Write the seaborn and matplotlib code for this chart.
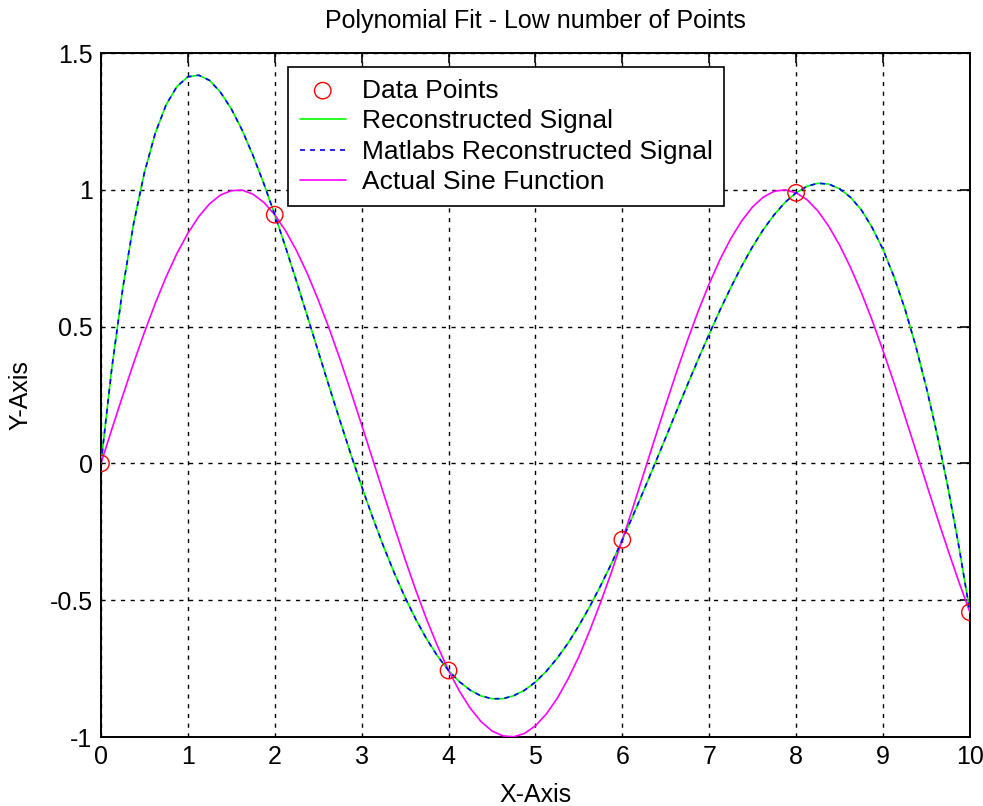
import matplotlib
matplotlib.use('Agg')
import matplotlib.pyplot as plt
import seaborn as sns
import pandas as pd

# sample points (x = 0..10 step 2)
pts_x = [0, 2, 4, 6, 8, 10]
pts_y = [0.0, 0.909, -0.757, -0.279, 0.989, -0.544]

# curves at x step 0.125
curve_x = [0.0, 0.125, 0.25, 0.375, 0.5, 0.625, 0.75, 0.875,
           1.0, 1.125, 1.25, 1.375, 1.5, 1.625, 1.75, 1.875,
           2.0, 2.125, 2.25, 2.375, 2.5, 2.625, 2.75, 2.875,
           3.0, 3.125, 3.25, 3.375, 3.5, 3.625, 3.75, 3.875,
           4.0, 4.125, 4.25, 4.375, 4.5, 4.625, 4.75, 4.875,
           5.0, 5.125, 5.25, 5.375, 5.5, 5.625, 5.75, 5.875,
           6.0, 6.125, 6.25, 6.375, 6.5, 6.625, 6.75, 6.875,
           7.0, 7.125, 7.25, 7.375, 7.5, 7.625, 7.75, 7.875,
           8.0, 8.125, 8.25, 8.375, 8.5, 8.625, 8.75, 8.875,
           9.0, 9.125, 9.25, 9.375, 9.5, 9.625, 9.75, 9.875,
           10.0]
recon_y = [0.0, 0.348, 0.638, 0.875, 1.063, 1.207, 1.311, 1.378,
           1.413, 1.419, 1.400, 1.357, 1.296, 1.218, 1.125, 1.022,
           0.909, 0.790, 0.666, 0.538, 0.410, 0.282, 0.157, 0.034,
           -0.084, -0.196, -0.302, -0.400, -0.490, -0.571, -0.643, -0.705,
           -0.757, -0.798, -0.829, -0.850, -0.860, -0.860, -0.849, -0.829,
           -0.799, -0.760, -0.712, -0.657, -0.593, -0.523, -0.447, -0.366,
           -0.279, -0.189, -0.096, -0.001, 0.095, 0.192, 0.288, 0.382,
           0.473, 0.561, 0.644, 0.722, 0.793, 0.856, 0.910, 0.955,
           0.989, 1.013, 1.024, 1.021, 1.004, 0.973, 0.927, 0.862,
           0.782, 0.683, 0.567, 0.431, 0.276, 0.102, -0.092, -0.307,
           -0.544]
sine_y = [0.0, 0.125, 0.247, 0.366, 0.479, 0.585, 0.682, 0.768,
          0.841, 0.902, 0.949, 0.981, 0.997, 0.999, 0.984, 0.954,
          0.909, 0.850, 0.778, 0.694, 0.598, 0.494, 0.382, 0.263,
          0.141, 0.017, -0.108, -0.231, -0.351, -0.465, -0.572, -0.669,
          -0.757, -0.832, -0.895, -0.944, -0.978, -0.996, -0.999, -0.987,
          -0.959, -0.916, -0.859, -0.788, -0.706, -0.611, -0.508, -0.397,
          -0.279, -0.158, -0.033, 0.092, 0.215, 0.335, 0.450, 0.558,
          0.657, 0.746, 0.823, 0.887, 0.938, 0.974, 0.995, 1.000,
          0.989, 0.964, 0.923, 0.867, 0.798, 0.717, 0.625, 0.523,
          0.412, 0.296, 0.174, 0.050, -0.075, -0.199, -0.319, -0.435,
          -0.544]

x_ticks = [0, 1, 2, 3, 4, 5, 6, 7, 8, 9, 10]
y_ticks = [-1, -0.5, 0, 0.5, 1, 1.5]
y_tick_labels = ['-1', '-0.5', '0', '0.5', '1', '1.5']

pts = pd.DataFrame({'x': pts_x, 'y': pts_y})
curves = pd.DataFrame({'x': curve_x, 'recon': recon_y, 'sine': sine_y})

sns.set_style('white')
plt.rcParams['font.family'] = ['Liberation Sans', 'DejaVu Sans']
plt.rcParams['font.size'] = 18
plt.rcParams['text.color'] = 'black'
plt.rcParams['axes.labelcolor'] = 'black'

fig = plt.figure(figsize=(9.83, 8.06), dpi=100)
ax = fig.add_axes([0.1027, 0.0856, 0.8840, 0.8486])

sns.scatterplot(data=pts, x='x', y='y', ax=ax, marker='o', s=140,
                facecolor='none', edgecolor='#ff0000', linewidth=1.0,
                label='Data Points', zorder=5)
sns.lineplot(data=curves, x='x', y='recon', ax=ax, color='#00ff00', lw=1.2,
             label='Reconstructed Signal', zorder=3)
sns.lineplot(data=curves, x='x', y='recon', ax=ax, color='#0000ff', lw=1.2,
             linestyle=(0, (3, 3)), label='Matlabs Reconstructed Signal', zorder=4)
sns.lineplot(data=curves, x='x', y='sine', ax=ax, color='#ff00ff', lw=1.2,
             label='Actual Sine Function', zorder=3)

ax.set_xlim(0, 10)
ax.set_ylim(-1, 1.5)
ax.set_xticks(x_ticks)
ax.set_yticks(y_ticks)
ax.set_yticklabels(y_tick_labels)
ax.grid(True, color='black', linestyle=(0, (3, 4)), linewidth=1.0)
ax.set_axisbelow(True)
ax.tick_params(direction='in', length=7, width=1.2, top=True, right=True,
               labelsize=18, pad=6, colors='black')
for sp in ax.spines.values():
    sp.set_color('black')
    sp.set_linewidth(1.4)

ax.set_title('Polynomial Fit - Low number of Points', fontsize=18, pad=18)
ax.set_xlabel('X-Axis', fontsize=18, labelpad=10)
ax.set_ylabel('Y-Axis', fontsize=18, labelpad=12)

leg = ax.legend(loc='upper left', bbox_to_anchor=(0.215, 0.98), fontsize=19,
                frameon=True, fancybox=False, shadow=False, framealpha=1,
                edgecolor='black', borderpad=0.45, labelspacing=0.25,
                handlelength=1.75, handletextpad=0.6, borderaxespad=0)
leg.get_frame().set_linewidth(1.2)

fig.savefig('out.png', dpi=100, facecolor='white')
